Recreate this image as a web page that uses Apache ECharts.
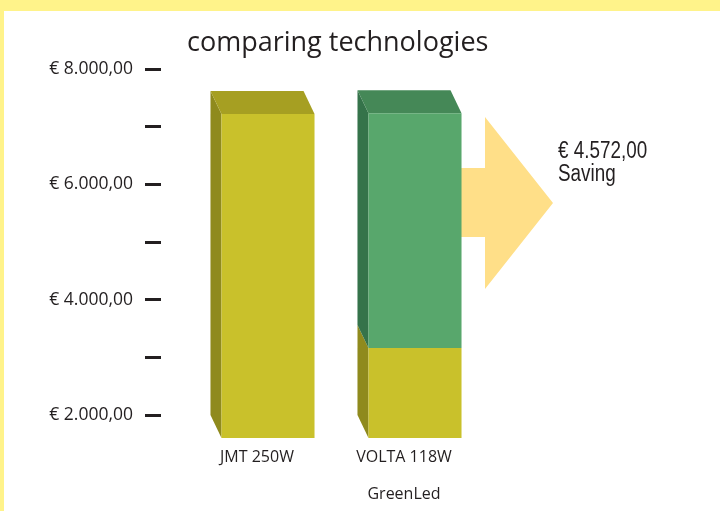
<!DOCTYPE html>
<html>
<head>
<meta charset="utf-8">
<title>comparing technologies</title>
<script src="https://cdn.jsdelivr.net/npm/echarts@6/dist/echarts.min.js"></script>
<style>
  html, body { margin: 0; padding: 0; background: #fff; }
  #main {
    width: 716px;
    height: 500px;
    border-top: 11px solid #fff38a;
    border-left: 4px solid #fff38a;
  }
</style>
</head>
<body>
<div id="main"></div>
<script>
// data
var categories = ['JMT 250W', 'VOLTA 118W']
var brands = ['', 'GreenLed']
var costValues = [7620, 3560]     // yellow part
var savingValues = [0, 4070]      // green part, stacked on cost
var yTickLabels = ['€ 2.000,00', '', '€ 4.000,00', '', '€ 6.000,00', '', '€ 8.000,00']
var savingText = ['€ 4.572,00', 'Saving']

var yMin = 2000
var yMax = 8000
var totals = costValues.map(function (v, i) { return v + savingValues[i] })

// 3d look: offset of front face from back face
var dx = 11
var dy = 23
var txt = '#231f20'

function shade (front, side, top) {
  return { front: front, side: side, top: top }
}
var yellow = shade('#c9c12b', '#8f8a1d', '#a69f22')
var green = shade('#58a76c', '#35734a', '#458857')

function makeRender (col) {
  return function (params, api) {
    var i = api.value(0)
    var lo = Math.max(api.value(1), yMin)
    var hi = api.value(2)
    if (hi <= lo) return
    var pTop = api.coord([i, hi])
    var pBot = api.coord([i, lo])
    var w = api.size([1, 0])[0] * 0.633
    var xL = pTop[0] - w / 2
    var xR = pTop[0] + w / 2
    var yT = pTop[1]
    var yB = pBot[1]
    var kids = [
      {
        type: 'polygon',
        shape: { points: [[xL, yT], [xL + dx, yT + dy], [xL + dx, yB + dy], [xL, yB]] },
        style: { fill: col.side }
      }
    ]
    if (hi >= totals[i]) {
      kids.push({
        type: 'polygon',
        shape: { points: [[xL, yT], [xR, yT], [xR + dx, yT + dy], [xL + dx, yT + dy]] },
        style: { fill: col.top }
      })
    }
    kids.push({
      type: 'rect',
      shape: { x: xL + dx, y: yT + dy, width: w, height: yB - yT },
      style: { fill: col.front }
    })
    return { type: 'group', children: kids }
  }
}

var myChart = echarts.init(document.getElementById('main'))

var option = {
  animation: false,
  textStyle: { fontFamily: 'Open Sans' },
  title: {
    text: 'comparing technologies',
    left: 178,
    top: 14,
    textStyle: { fontSize: 27, fontWeight: 'normal', color: txt, fontFamily: 'Open Sans' }
  },
  grid: [
    { left: 157, right: 242, top: 58, bottom: 96 },
    { left: 179.5, right: 242.5, top: 58, bottom: 96 }
  ],
  xAxis: [
    { gridIndex: 0, type: 'value', show: false },
    {
      gridIndex: 1,
      type: 'category',
      data: categories,
      axisLine: { show: false },
      axisTick: { show: false },
      axisLabel: {
        margin: 33,
        fontSize: 16,
        lineHeight: 18.5,
        color: txt,
        formatter: function (v, idx) {
          return brands[idx] ? v + '\n\n' + brands[idx] : v
        }
      }
    }
  ],
  yAxis: [
    {
      gridIndex: 0,
      type: 'value',
      min: yMin,
      max: yMax,
      interval: 1000,
      axisLine: { show: false },
      axisTick: { show: true, length: 16, lineStyle: { color: txt, width: 3 } },
      splitLine: { show: false },
      axisLabel: {
        margin: 28,
        fontSize: 17.5,
        color: txt,
        formatter: function (v) {
          return yTickLabels[Math.round((v - yMin) / 1000)]
        }
      }
    },
    { gridIndex: 1, type: 'value', min: yMin, max: yMax, show: false }
  ],
  graphic: [
    {
      type: 'polygon',
      z: 1,
      shape: {
        points: [[455, 157], [481, 157], [481, 106], [549, 192], [481, 278], [481, 226], [455, 226]]
      },
      style: { fill: '#ffdf88' }
    },
    {
      type: 'text',
      x: 554,
      y: 141,
      scaleX: 0.82,
      z: 5,
      style: { text: savingText[0], font: '23px "Liberation Sans"', fill: txt, verticalAlign: 'middle' }
    },
    {
      type: 'text',
      x: 554,
      y: 164,
      scaleX: 0.82,
      z: 5,
      style: { text: savingText[1], font: '23px "Liberation Sans"', fill: txt, verticalAlign: 'middle' }
    }
  ],
  series: [
    {
      name: 'cost',
      type: 'custom',
      xAxisIndex: 1,
      yAxisIndex: 1,
      z: 10,
      renderItem: makeRender(yellow),
      data: costValues.map(function (v, i) { return [i, 0, v] })
    },
    {
      name: 'saving',
      type: 'custom',
      xAxisIndex: 1,
      yAxisIndex: 1,
      z: 11,
      renderItem: makeRender(green),
      data: savingValues.map(function (v, i) { return [i, costValues[i], costValues[i] + v] })
    }
  ]
}

myChart.setOption(option)
</script>
</body>
</html>
